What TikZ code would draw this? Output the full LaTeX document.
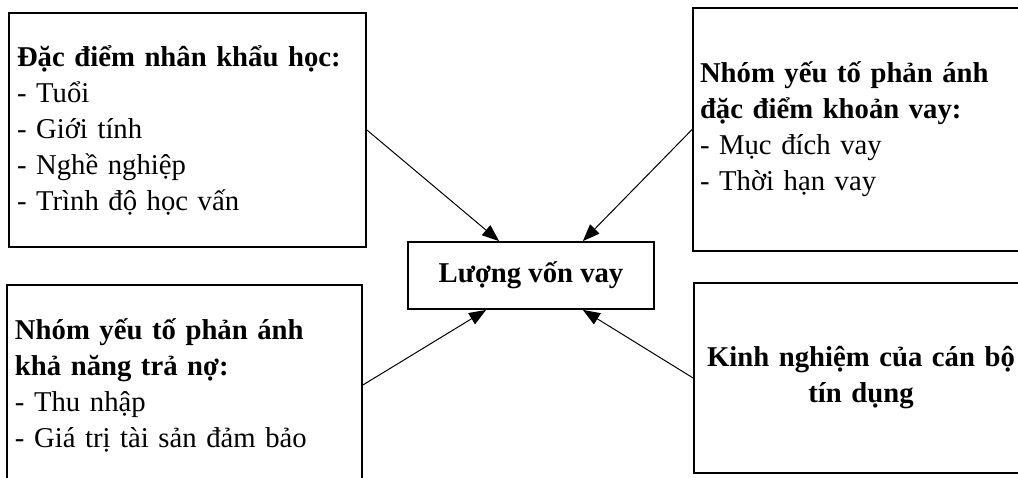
\documentclass[tikz,border=0pt]{standalone}
\usepackage{fontspec}
\setmainfont{Liberation Serif}
\usetikzlibrary{arrows.meta}

\tikzset{
  factor/.style={draw, line width=1.8pt, align=left, inner xsep=8pt, inner ysep=0pt},
  arr/.style={line width=1pt, -{Triangle[length=17pt,width=13pt]}},
}

\begin{document}
\begin{tikzpicture}[x=1pt,y=-1pt,font=\fontsize{28.7}{36}\selectfont]
\useasboundingbox (0,0) rectangle (1018,478);

% Four groups of factors
\node[factor, text width=341pt, minimum height=234pt] (nhankhau) at (187.5,130)
  {\textbf{Đặc điểm nhân khẩu học:}\\ - Tuổi\\ - Giới tính\\ - Nghề nghiệp\\ - Trình độ học vấn};
\node[factor, inner xsep=7pt, text width=321pt, minimum height=243pt] (khoanvay) at (860.5,129.5)
  {\textbf{Nhóm yếu tố phản ánh}\\ \textbf{đặc điểm khoản vay:}\\ - Mục đích vay\\ - Thời hạn vay};
\node[factor, text width=339pt, minimum height=200pt] (trano) at (184.5,385)
  {\textbf{Nhóm yếu tố phản ánh}\\ \textbf{khả năng trả nợ:}\\ - Thu nhập\\ - Giá trị tài sản đảm bảo};
\node[factor, align=center, text width=318pt, minimum height=190pt] (kinhnghiem) at (861,378)
  {\textbf{Kinh nghiệm của cán bộ}\\ \textbf{tín dụng}};

% Centre
\node[factor, align=center, minimum width=246pt, minimum height=67pt] (luongvon) at (531,275.5)
  {\textbf{Lượng vốn vay}};

\draw[arr] (nhankhau.east) -- ([xshift=92pt]luongvon.north west);
\draw[arr] (khoanvay.west) -- ([xshift=-72pt]luongvon.north east);
\draw[arr] (trano.east) -- ([xshift=79pt]luongvon.south west);
\draw[arr] (kinhnghiem.west) -- ([xshift=-72pt]luongvon.south east);
\end{tikzpicture}
\end{document}
